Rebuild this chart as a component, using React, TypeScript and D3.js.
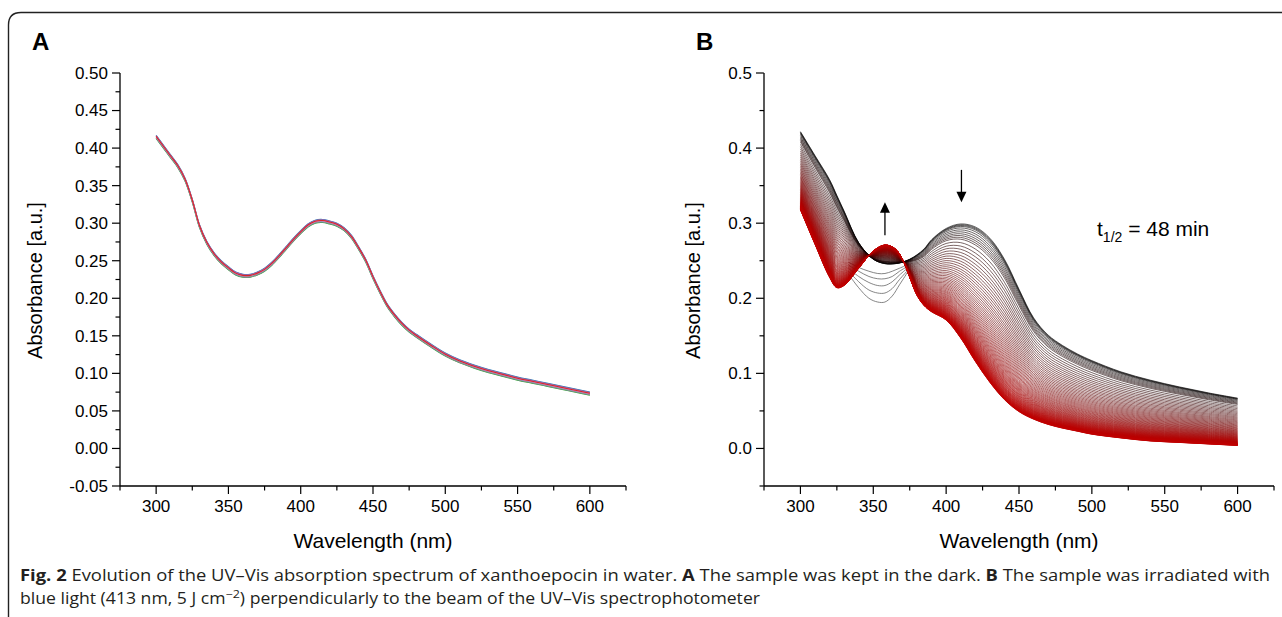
import React from "react";
import * as d3 from "d3";

// ---------- Panel A data (sample kept in the dark) ----------
const wlA = [300, 305, 310, 315, 320, 325, 330, 335, 340, 345, 350, 355, 360, 365, 370, 375, 380, 385, 390, 395, 400, 405, 410, 415, 420, 425, 430, 435, 440, 445, 450, 455, 460, 465, 470, 475, 480, 490, 500, 510, 520, 530, 540, 550, 560, 570, 580, 590, 600];
const absA = [0.415, 0.402, 0.389, 0.376, 0.358, 0.330, 0.296, 0.274, 0.259, 0.248, 0.240, 0.233, 0.230, 0.230, 0.233, 0.238, 0.246, 0.256, 0.267, 0.278, 0.288, 0.297, 0.302, 0.303, 0.301, 0.298, 0.292, 0.282, 0.267, 0.250, 0.228, 0.208, 0.190, 0.177, 0.166, 0.157, 0.150, 0.137, 0.125, 0.116, 0.109, 0.103, 0.098, 0.093, 0.089, 0.085, 0.081, 0.077, 0.073];
// repeated measurements: tiny per-run offsets
const runOffsetsA = [0.002, -0.002, 0.001, -0.001, 0.0015, -0.0015, 0.0, 0.0005];
const runColorsA = ["#1f77b4", "#2ca02c", "#ff7f0e", "#17becf", "#9467bd", "#8c8c8c", "#e377c2", "#d62728"];

// ---------- Panel B data (irradiated) ----------
const wlB = [300, 310, 320, 325, 330, 340, 350, 358, 365, 370, 375, 380, 385, 390, 400, 410, 420, 430, 440, 450, 460, 470, 480, 490, 500, 520, 540, 560, 580, 600];
const absInitialB = [0.422, 0.390, 0.358, 0.337, 0.316, 0.274, 0.252, 0.246, 0.246, 0.248, 0.252, 0.258, 0.266, 0.278, 0.293, 0.299, 0.295, 0.280, 0.252, 0.212, 0.174, 0.151, 0.137, 0.126, 0.117, 0.102, 0.091, 0.082, 0.074, 0.067];
const absFinalB = [0.318, 0.272, 0.228, 0.214, 0.217, 0.240, 0.263, 0.271, 0.266, 0.252, 0.228, 0.204, 0.190, 0.182, 0.171, 0.147, 0.116, 0.088, 0.065, 0.049, 0.039, 0.032, 0.027, 0.023, 0.019, 0.014, 0.010, 0.008, 0.006, 0.004];
// remaining fraction of the initial species for each recorded spectrum (t1/2 = 48 min)
const remainingB = [
  1.000, 0.993, 0.986, 0.978, 0.965, 0.948, 0.931, 0.914, 0.898, 0.882, 0.866, 0.836, 0.806, 0.778, 0.750, 0.723,
  0.698, 0.673, 0.649, 0.626, 0.603, 0.582, 0.561, 0.540, 0.521, 0.502,
  0.484, 0.466, 0.449, 0.433, 0.417, 0.402, 0.387, 0.373, 0.359, 0.346,
  0.333, 0.320, 0.308, 0.297, 0.285, 0.275, 0.264, 0.254, 0.244, 0.235,
  0.226, 0.217, 0.209, 0.200, 0.192, 0.185, 0.177, 0.170, 0.163, 0.157,
  0.150, 0.144, 0.138, 0.132, 0.127, 0.121, 0.116, 0.111, 0.106, 0.101,
  0.097, 0.092, 0.088, 0.084, 0.080, 0.076, 0.073, 0.069, 0.066, 0.062,
  0.059, 0.056, 0.053, 0.050, 0.047, 0.044, 0.042, 0.039, 0.037, 0.035,
  0.032, 0.030, 0.028, 0.026, 0.024, 0.022, 0.020, 0.018, 0.017, 0.015,
  0.013, 0.012, 0.010, 0.009, 0.007, 0.006, 0.005, 0.004, 0.002, 0.001, 0.000,
];
// first spectra with a dip around 355 nm
const dipWl = [333, 340, 347, 353, 358, 363, 368, 374];
const dipCurves = [
  [0.232, 0.214, 0.200, 0.195, 0.195, 0.203, 0.218, 0.236],
  [0.236, 0.222, 0.211, 0.207, 0.207, 0.213, 0.225, 0.238],
  [0.240, 0.229, 0.221, 0.217, 0.217, 0.222, 0.231, 0.241],
  [0.244, 0.236, 0.229, 0.226, 0.226, 0.229, 0.236, 0.243],
  [0.248, 0.241, 0.236, 0.233, 0.233, 0.236, 0.240, 0.245],
];

// ---------- axes ----------
const xDomain: [number, number] = [275, 625];
const yDomain: [number, number] = [-0.05, 0.5];
const xMajor = [300, 350, 400, 450, 500, 550, 600];
const xMinor = [275, 325, 375, 425, 475, 525, 575, 625];
const yMajorA = [-0.05, 0, 0.05, 0.1, 0.15, 0.2, 0.25, 0.3, 0.35, 0.4, 0.45, 0.5];
const yMinorA = [-0.025, 0.025, 0.075, 0.125, 0.175, 0.225, 0.275, 0.325, 0.375, 0.425, 0.475];
const yMajorB = [0, 0.1, 0.2, 0.3, 0.4, 0.5];
const yMinorB = [-0.05, 0.05, 0.15, 0.25, 0.35, 0.45];

const FONT = "Liberation Sans, Arial, sans-serif";
const locale = d3.formatLocale({ decimal: ".", thousands: ",", grouping: [3], currency: ["", ""], minus: "-" });

function Axes({ x, y, yMajor, yMinor, fmt, label }: any) {
  const x0 = x.range()[0], x1 = x.range()[1];
  const y0 = y.range()[0], y1 = y.range()[1];
  return (
    <g stroke="#000" fill="none">
      <line x1={x0} x2={x0} y1={y0} y2={y1} strokeWidth={1.3} />
      <line x1={x0} x2={x1} y1={y0} y2={y0} strokeWidth={1.3} />
      {yMajor.map((v: number) => (
        <g key={"ym" + v}>
          <line x1={x0 - 8} x2={x0} y1={y(v)} y2={y(v)} strokeWidth={1.2} />
          <text x={x0 - 12} y={y(v)} dy="0.35em" textAnchor="end" fill="#000" stroke="none" fontSize={17} fontFamily={FONT}>{fmt(v)}</text>
        </g>
      ))}
      {yMinor.map((v: number) => (
        <line key={"yn" + v} x1={x0 - 4.5} x2={x0} y1={y(v)} y2={y(v)} strokeWidth={1.2} />
      ))}
      {xMajor.map((v) => (
        <g key={"xm" + v}>
          <line x1={x(v)} x2={x(v)} y1={y0} y2={y0 + 8} strokeWidth={1.2} />
          <text x={x(v)} y={y0 + 26} textAnchor="middle" fill="#000" stroke="none" fontSize={17} fontFamily={FONT}>{v}</text>
        </g>
      ))}
      {xMinor.map((v) => (
        <line key={"xn" + v} x1={x(v)} x2={x(v)} y1={y0} y2={y0 + 4.5} strokeWidth={1.2} />
      ))}
      <text x={(x0 + x1) / 2} y={y0 + 62} textAnchor="middle" fill="#000" stroke="none" fontSize={21} fontFamily={FONT}>Wavelength (nm)</text>
      <text transform={`translate(${label},${(y0 + y1) / 2 + 1}) rotate(-90)`} textAnchor="middle" dy="0.35em" fill="#000" stroke="none" fontSize={20} fontFamily={FONT}>Absorbance [a.u.]</text>
    </g>
  );
}

export default function App() {
  const xA = d3.scaleLinear().domain(xDomain).range([120, 626]);
  const yA = d3.scaleLinear().domain(yDomain).range([486, 73]);
  const xB = d3.scaleLinear().domain(xDomain).range([764, 1274]);
  const yB = d3.scaleLinear().domain(yDomain).range([486, 73]);

  const lineA = d3.line<[number, number]>().x((d) => xA(d[0])).y((d) => yA(d[1])).curve(d3.curveCatmullRom.alpha(0.5));
  const lineB = d3.line<[number, number]>().x((d) => xB(d[0])).y((d) => yB(d[1])).curve(d3.curveCatmullRom.alpha(0.5));

  const colorB = d3.interpolateRgb("#000000", "#c00000");

  return (
    <svg width={1282} height={617} style={{ position: "absolute", left: 0, top: 0, background: "#fff" }}>
      <rect width={1282} height={617} fill="#fff" />
      <path d="M8.5,617 V25 Q8.5,12.5 21,12.5 H1282" fill="none" stroke="#222" strokeWidth={1.4} />

      <text x={32} y={50} fontSize={24} fontWeight="bold" fontFamily={FONT}>A</text>
      <text x={696} y={50} fontSize={24} fontWeight="bold" fontFamily={FONT}>B</text>

      <Axes x={xA} y={yA} yMajor={yMajorA} yMinor={yMinorA} fmt={locale.format(".2f")} label={35} />
      <Axes x={xB} y={yB} yMajor={yMajorB} yMinor={yMinorB} fmt={locale.format(".1f")} label={693} />

      {/* Panel A spectra */}
      <g fill="none">
        {runOffsetsA.map((off, i) => (
          <path key={i} d={lineA(wlA.map((w, j) => [w, absA[j] + off] as [number, number])) || ""} stroke={runColorsA[i]} strokeWidth={1.1} />
        ))}
      </g>

      {/* Panel B spectra */}
      <g fill="none">
        {dipCurves.map((c, i) => (
          <path key={"d" + i} d={lineB(dipWl.map((w, j) => [w, c[j]] as [number, number])) || ""} stroke="#666" strokeWidth={0.8} />
        ))}
        {remainingB.map((r, i) => (
          <path key={i}
            d={lineB(wlB.map((w, j) => [w, absFinalB[j] + r * (absInitialB[j] - absFinalB[j])] as [number, number])) || ""}
            stroke={colorB(1 - r)} strokeWidth={0.6} />
        ))}
      </g>

      {/* arrows */}
      <g stroke="#000" fill="#000">
        <line x1={xB(358)} x2={xB(358)} y1={yB(0.284)} y2={yB(0.318)} strokeWidth={1.3} />
        <path d={`M${xB(358) - 5},${yB(0.314)} L${xB(358) + 5},${yB(0.314)} L${xB(358)},${yB(0.328)} Z`} strokeWidth={0} />
        <line x1={xB(410.5)} x2={xB(410.5)} y1={yB(0.371)} y2={yB(0.338)} strokeWidth={1.3} />
        <path d={`M${xB(410.5) - 5},${yB(0.342)} L${xB(410.5) + 5},${yB(0.342)} L${xB(410.5)},${yB(0.328)} Z`} strokeWidth={0} />
      </g>

      <text x={1097} y={236} fontSize={21} fontFamily={FONT}>
        t<tspan fontSize={14} dy={6}>1/2</tspan><tspan dy={-6}> = 48 min</tspan>
      </text>

      {/* caption */}
      <g fontFamily="Open Sans, Noto Sans, sans-serif" fontSize={15.5} fill="#231f20" style={{ whiteSpace: "pre" }}>
        <text x={20} y={581} textLength={1250} lengthAdjust="spacingAndGlyphs">
          <tspan fontWeight="bold">Fig. 2</tspan>
          <tspan>{"  Evolution of the UV–Vis absorption spectrum of xanthoepocin in water. "}</tspan>
          <tspan fontWeight="bold">A</tspan>
          <tspan>{" The sample was kept in the dark. "}</tspan>
          <tspan fontWeight="bold">B</tspan>
          <tspan>{" The sample was irradiated with"}</tspan>
        </text>
        <text x={20} y={604} textLength={740} lengthAdjust="spacingAndGlyphs">
          <tspan>{"blue light (413 nm, 5 J cm"}</tspan>
          <tspan fontSize={11} dy={-6}>{"−2"}</tspan>
          <tspan dy={6}>{") perpendicularly to the beam of the UV–Vis spectrophotometer"}</tspan>
        </text>
      </g>
    </svg>
  );
}
